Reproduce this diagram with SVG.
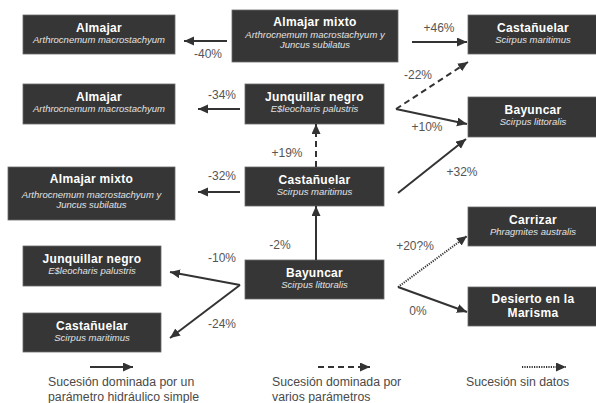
<svg xmlns="http://www.w3.org/2000/svg" width="596" height="403" viewBox="0 0 596 403">
  <defs>
    <style>
      .box { fill: #363636; stroke: #6a6a6a; stroke-width: 0.8; }
      .t { font-family: "Liberation Sans", Arial, sans-serif; font-size: 12px; font-weight: bold; fill: #ffffff; text-anchor: middle; letter-spacing: 0.3px; }
      .s { font-family: "Liberation Sans", Arial, sans-serif; font-size: 9.5px; font-style: italic; fill: #e2e2e2; text-anchor: middle; }
      .lbl { font-family: "Liberation Sans", Arial, sans-serif; font-size: 12px; fill: #555555; text-anchor: middle; }
      .leg { font-family: "Liberation Sans", Arial, sans-serif; font-size: 12.3px; fill: #4a4a4a; }
      .e { fill: none; stroke: #333333; stroke-width: 2; marker-end: url(#ah); }
      .dash { stroke-dasharray: 6 4; }
      .dot { stroke-dasharray: 1.2 1.2; }
    </style>
    <marker id="ah" markerUnits="userSpaceOnUse" markerWidth="11" markerHeight="10" refX="10" refY="4.5" orient="auto">
      <path d="M0,0 L10,4.5 L0,9 Z" fill="#333333"/>
    </marker>
  </defs>

  <rect width="596" height="403" fill="#ffffff"/>

  <!-- left column -->
  <g id="almajar-1">
    <rect class="box" x="23" y="15" width="152" height="39"/>
    <text class="t" x="99" y="32">Almajar</text>
    <text class="s" x="99" y="43">Arthrocnemum macrostachyum</text>
  </g>
  <g id="almajar-2">
    <rect class="box" x="23" y="84" width="152" height="40"/>
    <text class="t" x="99" y="101">Almajar</text>
    <text class="s" x="99" y="112">Arthrocnemum macrostachyum</text>
  </g>
  <g id="almajar-mixto-2">
    <rect class="box" x="8" y="167" width="167" height="53"/>
    <text class="t" x="91.5" y="183">Almajar mixto</text>
    <text class="s" x="91.5" y="198">Arthrocnemum macrostachyum y</text>
    <text class="s" x="91.5" y="208">Juncus subilatus</text>
  </g>
  <g id="junquillar-2">
    <rect class="box" x="23" y="246" width="138" height="40"/>
    <text class="t" x="92" y="263">Junquillar negro</text>
    <text class="s" x="92" y="274">E$leocharis palustris</text>
  </g>
  <g id="castanuelar-3">
    <rect class="box" x="23" y="313" width="138" height="39"/>
    <text class="t" x="92" y="330">Castañuelar</text>
    <text class="s" x="92" y="341">Scirpus maritimus</text>
  </g>

  <!-- centre column -->
  <g id="almajar-mixto-1">
    <rect class="box" x="232" y="10" width="166" height="52"/>
    <text class="t" x="315" y="26">Almajar mixto</text>
    <text class="s" x="315" y="38">Arthrocnemum macrostachyum y</text>
    <text class="s" x="315" y="48">Juncus subilatus</text>
  </g>
  <g id="junquillar-1">
    <rect class="box" x="245" y="84" width="139" height="40"/>
    <text class="t" x="314.5" y="101">Junquillar negro</text>
    <text class="s" x="314.5" y="112">E$leocharis palustris</text>
  </g>
  <g id="castanuelar-2">
    <rect class="box" x="245" y="167" width="139" height="39"/>
    <text class="t" x="314.5" y="184">Castañuelar</text>
    <text class="s" x="314.5" y="195">Scirpus maritimus</text>
  </g>
  <g id="bayuncar-2">
    <rect class="box" x="245" y="260" width="139" height="39"/>
    <text class="t" x="314.5" y="277">Bayuncar</text>
    <text class="s" x="314.5" y="288">Scirpus littoralis</text>
  </g>

  <!-- right column -->
  <g id="castanuelar-1">
    <rect class="box" x="468" y="15" width="130" height="39"/>
    <text class="t" x="533" y="32">Castañuelar</text>
    <text class="s" x="533" y="43">Scirpus maritimus</text>
  </g>
  <g id="bayuncar-1">
    <rect class="box" x="468" y="97" width="130" height="40"/>
    <text class="t" x="533" y="114">Bayuncar</text>
    <text class="s" x="533" y="125">Scirpus littoralis</text>
  </g>
  <g id="carrizar">
    <rect class="box" x="468" y="207" width="130" height="39"/>
    <text class="t" x="533" y="224">Carrizar</text>
    <text class="s" x="533" y="235">Phragmites australis</text>
  </g>
  <g id="desierto">
    <rect class="box" x="468" y="287" width="130" height="39"/>
    <text class="t" x="533" y="303">Desierto en la</text>
    <text class="t" x="533" y="317">Marisma</text>
  </g>

  <!-- connectors -->
  <g id="connectors">
    <path class="e" d="M227,41 L184,41"/>
    <path class="e" d="M412,42 L467,42"/>
    <path class="e" d="M240,109 L198,109"/>
    <path class="e dash" d="M396,109 L468,62"/>
    <path class="e" d="M396,109 L467,124"/>
    <path class="e dash" d="M316,167 L316,124"/>
    <path class="e" d="M240,192 L198,192"/>
    <path class="e" d="M398,193 L466,139"/>
    <path class="e" d="M316,260 L316,206"/>
    <path class="e" d="M240,285 L170,272"/>
    <path class="e" d="M240,285 L170,338"/>
    <path class="e dot" d="M398,287 L467,236"/>
    <path class="e" d="M398,287 L467,312"/>

    <text class="lbl" x="208" y="58">-40%</text>
    <text class="lbl" x="439" y="32">+46%</text>
    <text class="lbl" x="222" y="99">-34%</text>
    <text class="lbl" x="418" y="79">-22%</text>
    <text class="lbl" x="427" y="131">+10%</text>
    <text class="lbl" x="287" y="157">+19%</text>
    <text class="lbl" x="222" y="180">-32%</text>
    <text class="lbl" x="462" y="176">+32%</text>
    <text class="lbl" x="280" y="249">-2%</text>
    <text class="lbl" x="222" y="262">-10%</text>
    <text class="lbl" x="222" y="328">-24%</text>
    <text class="lbl" x="415" y="250">+20?%</text>
    <text class="lbl" x="418" y="315">0%</text>
  </g>

  <!-- legend -->
  <g id="legend">
    <path class="e" d="M90,367 L133,367"/>
    <path class="e dash" d="M318,367 L370,367"/>
    <path class="e dot" d="M522,367 L566,367"/>
    <text class="leg" x="48" y="386">Sucesión dominada por un</text>
    <text class="leg" x="48" y="401">parámetro hidráulico simple</text>
    <text class="leg" x="272" y="386">Sucesión dominada por</text>
    <text class="leg" x="272" y="401">varios parámetros</text>
    <text class="leg" x="466" y="386">Sucesión sin datos</text>
  </g>
</svg>
